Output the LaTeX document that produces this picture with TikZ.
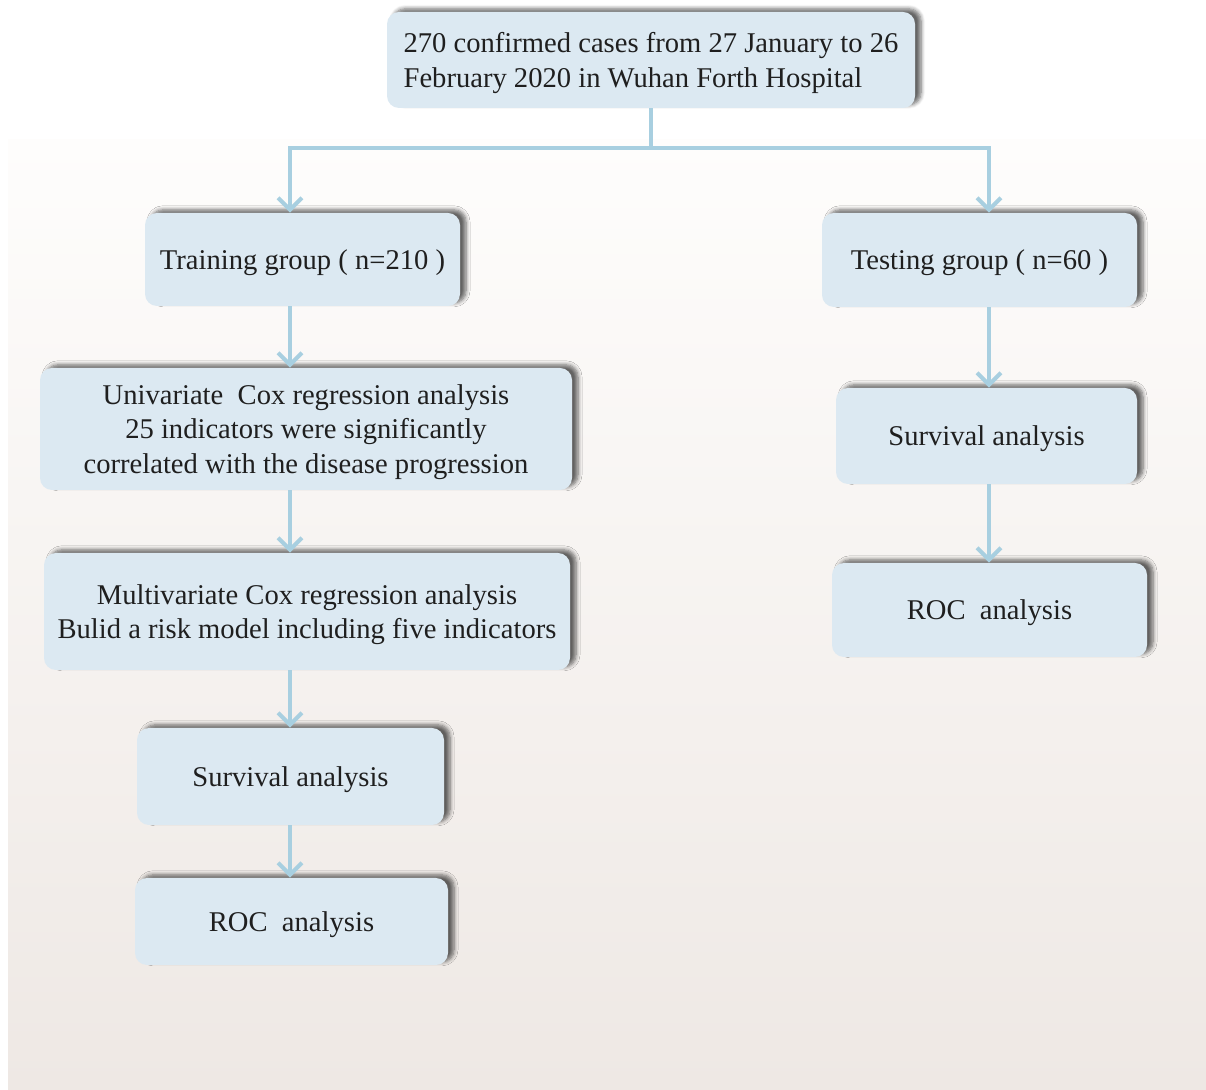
\documentclass[tikz,border=0pt]{standalone}
\usepackage{fontspec}
\setmainfont{Liberation Serif}
\newfontfamily\boxfont{Liberation Serif}
\usepackage{xcolor}
\usetikzlibrary{arrows.meta,shadows.blur}
\definecolor{boxfill}{HTML}{DCE9F2}
\definecolor{linkblue}{HTML}{A8CFE0}
\definecolor{bgtop}{HTML}{FEFDFC}
\definecolor{bgbot}{HTML}{EEE8E4}

\begin{document}
\begin{tikzpicture}[
  x=0.5pt, y=-0.5pt,
  box/.style={fill=boxfill, rounded corners=6pt, align=center, inner sep=0pt,
              font=\boxfont\fontsize{14.3}{17.3}\selectfont, text=black!88,
              text depth=-3pt,
              blur shadow={shadow xshift=3pt, shadow yshift=1.6pt, shadow blur radius=2pt,
                           shadow blur steps=6, shadow opacity=60}},
  link/.style={line width=2pt, linkblue},
  arr/.style={link, -{Straight Barb[length=6pt, width=12pt]}}
]
\useasboundingbox (0,0) rectangle (1206,1090);
\shade[top color=bgtop, bottom color=bgbot] (8,140) rectangle (1206,1090);

\node[box, align=left, minimum width=264pt, minimum height=48pt] (cases) at (651,60)
  {270 confirmed cases from 27 January to 26\\February 2020 in Wuhan Forth Hospital};
\node[box, minimum width=157.5pt, minimum height=46.5pt] (train) at (302.5,259.5) {Training group ( n=210 )};
\node[box, minimum width=266pt, minimum height=61pt] (uni) at (306,429)
  {Univariate\ \ Cox regression analysis\\25 indicators were significantly\\correlated with the disease progression};
\node[box, minimum width=263pt, minimum height=58.5pt] (multi) at (307,611.5)
  {Multivariate Cox regression analysis\\Bulid a risk model including five indicators};
\node[box, minimum width=153.5pt, minimum height=48.5pt] (survL) at (290.5,776.5) {Survival analysis};
\node[box, minimum width=156.5pt, minimum height=43.5pt] (rocL) at (291.5,921.5) {ROC\ \ analysis};
\node[box, minimum width=157.5pt, minimum height=47pt] (test) at (979.5,260) {Testing group ( n=60 )};
\node[box, minimum width=150.5pt, minimum height=48pt] (survR) at (986.5,436) {Survival analysis};
\node[box, minimum width=157.5pt, minimum height=47pt] (rocR) at (989.5,610) {ROC\ \ analysis};

\coordinate (split) at (651,148);
\coordinate (colL) at (290,0);
\coordinate (colR) at (989,0);
\draw[link] (cases.south) -- (split);
\draw[arr] (split) -| (train.north -| colL);
\draw[arr] (split) -| (test.north -| colR);
\draw[arr] (train.south -| colL) -- (uni.north -| colL);
\draw[arr] (uni.south -| colL) -- (multi.north -| colL);
\draw[arr] (multi.south -| colL) -- (survL.north -| colL);
\draw[arr] (survL.south -| colL) -- (rocL.north -| colL);
\draw[arr] (test.south -| colR) -- (survR.north -| colR);
\draw[arr] (survR.south -| colR) -- (rocR.north -| colR);
\end{tikzpicture}
\end{document}
